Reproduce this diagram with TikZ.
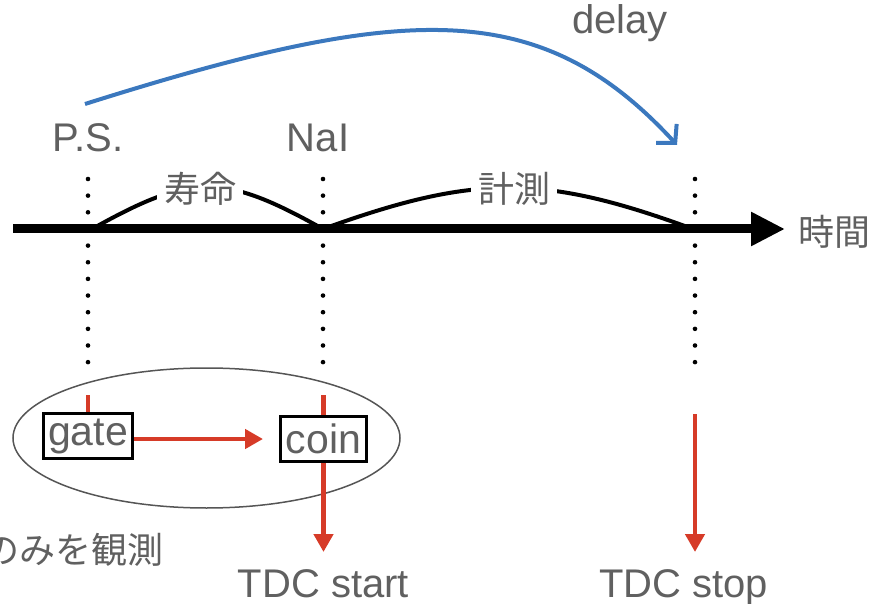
\documentclass[tikz,border=0pt]{standalone}
\usepackage{fontspec}
\setmainfont{Liberation Sans}
\newfontfamily\jp{Noto Sans CJK JP}
\usetikzlibrary{arrows.meta,shapes.geometric}
\definecolor{txt}{HTML}{606060}
\definecolor{myred}{HTML}{D63B28}
\definecolor{myblue}{HTML}{3B78BE}
\definecolor{ellc}{HTML}{555555}
\begin{document}
\begin{tikzpicture}[x=1pt,y=-1pt,
  lbl/.style={text=txt, font=\fontsize{40}{40}\selectfont, inner sep=0pt},
  jlbl/.style={text=txt, font=\jp\fontsize{36}{36}\selectfont, inner sep=0pt},
  arclbl/.style={jlbl, fill=white, inner xsep=7pt, inner ysep=3pt},
  dotline/.style={line width=4.6pt, line cap=round, dash pattern=on 0pt off 16.65pt},
  axisline/.style={line width=9pt, -{Triangle[length=34pt,width=32pt]}},
  arcline/.style={line width=4pt},
  redline/.style={myred, line width=4.5pt},
  redarrow/.style={redline, -{Triangle[length=18pt,width=19pt]}},
  bluearrow/.style={myblue, line width=4pt, -{Straight Barb[length=13pt,width=28pt]}},
  boxnode/.style={draw=black, line width=3pt, minimum height=45pt, inner sep=0pt,
                  text=txt, font=\fontsize{41}{41}\selectfont},
]
\useasboundingbox (0,0) rectangle (873,604);

% group ellipse
\node[draw=ellc, line width=1.5pt, ellipse, minimum width=387pt, minimum height=140pt, inner sep=0pt] (grp) at (206.5,438) {};

% dotted columns
\coordinate (c1t) at (88,179);  \coordinate (c1b) at (88,364);
\coordinate (c2t) at (323,179); \coordinate (c2b) at (323,364);
\coordinate (c3t) at (695,179); \coordinate (c3b) at (695,364);
\draw[dotline] (c1t) -- (c1b);
\draw[dotline] (c2t) -- (c2b);
\draw[dotline] (c3t) -- (c3b);

% arcs
\coordinate (a1) at (92,229);
\coordinate (a2) at (323,229);
\coordinate (a3) at (693,229);
\draw[arcline] (a1) .. controls (192,173) and (223,173) .. (a2);
\draw[arcline] (a2) .. controls (475,174) and (543,174) .. (a3);
\node[arclbl] (life) at (200,189) {寿命};
\node[arclbl] (meas) at (514,189) {計測};

% time axis
\coordinate (axL) at (13,229);
\coordinate (axR) at (785,229);
\draw[axisline] (axL) -- (axR);
\node[jlbl] (time) at (834,232) {時間};

% labels
\node[lbl, anchor=base] (delay) at (620,34) {delay};
\node[lbl, anchor=base] (ps) at (88,152) {P.S.};
\node[lbl, anchor=base] (nai) at (318,152) {NaI};
\node[lbl, anchor=base] (start) at (323.5,597) {TDC start};
\node[lbl, anchor=base] (stop) at (683.5,597) {TDC stop};
\node[jlbl, anchor=east] (obs) at (164,550) {のみを観測};

% delay arrow
\coordinate (b0) at (85,104);
\coordinate (b1) at (677,145);
\draw[bluearrow] (b0) .. controls (405,3) and (540,-4) .. (b1);

% boxes
\node[boxnode, minimum width=89pt] (gate) at (88,436) {gate};
\node[boxnode, minimum width=86pt] (coin) at (323.5,439) {coin};

% red signal lines
\coordinate (gs) at (88,395);
\coordinate (cs) at (323.5,395);
\coordinate (ce) at (323.5,552);
\coordinate (rs) at (695,414);
\coordinate (re) at (695,552);
\draw[redline] (gs) -- (gate.north);
\draw[redline] (cs) -- (coin.north);
\draw[redarrow] (gate.east |- coin.west) -- ([xshift=-16pt]coin.west);
\draw[redarrow] (coin.south) -- (ce);
\draw[redarrow] (rs) -- (re);
\end{tikzpicture}
\end{document}
